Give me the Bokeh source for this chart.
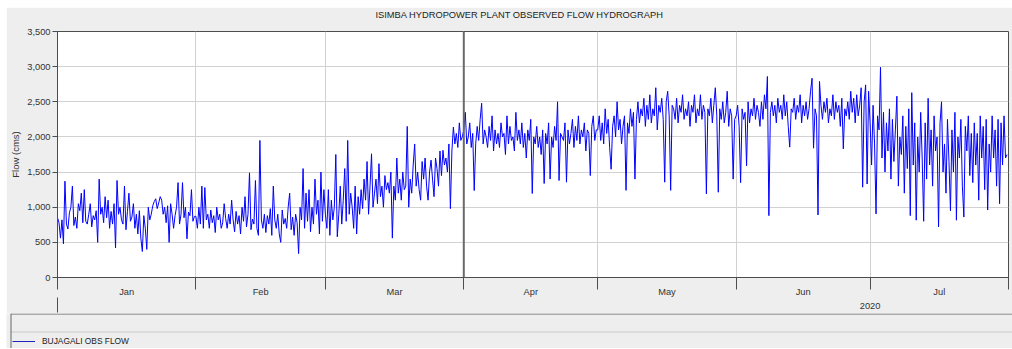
import pandas as pd
from bokeh.plotting import figure
from bokeh.models import (FixedTicker, NumeralTickFormatter, Span, Range1d,
                          LinearAxis, Title, Legend, LegendItem)
from bokeh.layouts import column
from bokeh.embed import file_html
from bokeh.resources import INLINE

# ---- data: observed flow (cms), three readings per day (00h, 08h, 16h) ----
jan_flow = [
    850, 780, 560, 820, 480, 1370, 760, 690, 920, 1000, 1300, 740, 860, 700, 1050,
    950, 1200, 780, 1250, 800, 760, 900, 1050, 720, 880, 820, 950, 500, 1400, 900,
    1000, 780, 1150, 850, 1100, 700, 940, 760, 1050, 420, 1380, 900, 1000, 820, 760,
    1300, 680, 940, 1200, 800, 860, 1050, 700, 900, 620, 950, 560, 370, 880, 700,
    400, 1000, 820, 900, 1020, 1080, 1120, 980, 1060, 1150, 1100, 900, 1000, 780, 1020,
    500, 1050, 900, 700, 880, 1000, 1350, 760, 900, 1350, 850, 1000, 550, 930, 880,
    1250, 800, 870,
]
feb_flow = [
    870, 700, 1000, 760, 1300, 700, 1280, 820, 900, 700, 960, 780, 880, 640, 1000,
    820, 900, 700, 780, 1050, 840, 700, 900, 760, 1100, 820, 650, 940, 760, 880,
    620, 1000, 800, 1150, 720, 900, 1490, 680, 830, 760, 1380, 700, 600, 1950, 820,
    700, 900, 640, 880, 760, 980, 600, 1300, 820, 700, 900, 620, 500, 960, 760,
    840, 700, 1000, 1200, 680, 860, 600, 900, 780, 340, 1000, 820, 1550, 700, 1200,
    800, 1250, 650, 1000, 760, 1400, 900, 1100, 620, 1500, 800, 1250,
]
mar_flow = [
    900, 700, 1250, 600, 1100, 820, 1000, 1750, 580, 900, 1300, 760, 1100, 1550, 800,
    1950, 900, 1200, 1000, 700, 1300, 620, 1150, 900, 1250, 980, 1400, 1100, 1650, 900,
    1300, 1760, 1000, 1200, 1400, 1050, 1620, 1150, 1300, 1000, 1450, 1250, 1350, 1200, 1500,
    560, 1300, 1100, 1700, 1200, 1400, 1100, 1500, 1250, 1300, 2150, 1000, 1400, 1200, 1600,
    1900, 1300, 1500, 1250, 1100, 1650, 1400, 1700, 1300, 1100, 1500, 1670, 1400, 1150, 1700,
    1550, 1300, 1800, 1450, 1810, 1600, 1700, 1500, 1900, 980, 1800, 2140, 1900, 2050, 1850,
    2200, 1950, 2000,
]
apr_flow = [
    2100, 2350, 1900, 2000, 2200, 1850, 2050, 1237, 1900, 2150, 1950, 2250, 2480, 1900, 2100,
    2000, 1850, 2150, 1950, 2300, 1800, 2100, 1900, 2050, 1850, 2200, 2000, 2050, 1750, 2300,
    1900, 2150, 1950, 2000, 1800, 2350, 1950, 2100, 1900, 2200, 1850, 2050, 1700, 2100, 1950,
    2250, 1195, 2000, 1900, 2150, 1850, 2000, 1750, 2100, 1337, 2050, 1900, 2200, 1400, 2000,
    1850, 2150, 1950, 2500, 1380, 2050, 2000, 1950, 2200, 1356, 2100, 1900, 2050, 2250, 1850,
    2150, 1950, 2300, 1900, 2100, 2000, 2200, 1800, 2100, 2050, 1450, 2150, 2300, 1950, 2100,
]
may_flow = [
    2100, 2300, 1950, 2200, 1900, 2400, 2050, 2250, 1850, 1540, 2150, 2300, 2000, 2500, 2100,
    2250, 1900, 2150, 2300, 1240, 2200, 2050, 2400, 2150, 2350, 1400, 2250, 2500, 2200, 2400,
    2300, 2550, 2150, 2450, 2250, 2600, 2200, 2400, 2300, 2700, 2100, 2450, 2350, 2550, 2250,
    1356, 2500, 2650, 2300, 1240, 2450, 2400, 2250, 2550, 2200, 2450, 2350, 2600, 2250, 2400,
    2300, 2500, 2150, 2450, 2350, 2600, 2200, 2400, 2300, 2600, 2250, 2450, 2350, 1190, 2400,
    2300, 2550, 2200, 2450, 2700, 2300, 1213, 2400, 2250, 2500, 2200, 2350, 2650, 2150, 2400,
    2300, 1400, 2250,
]
jun_flow = [
    2300, 2450, 2150, 1350, 2400, 2250, 2350, 1590, 2500, 2200, 2400, 2300, 2550, 2250, 2450,
    2350, 2150, 2500, 2250, 2600, 2400, 2860, 880, 2350, 2500, 2300, 2450, 2200, 2550, 2350,
    2450, 2250, 2600, 2300, 2500, 2150, 1855, 2400, 2350, 2550, 2250, 2450, 2350, 2600, 2200,
    2450, 2300, 2500, 2250, 2400, 2650, 2835, 1840, 2400, 2300, 890, 2790, 2450, 2250, 2500,
    2350, 2550, 2200, 2400, 2300, 2600, 2250, 2500, 2350, 2450, 2150, 2550, 1830, 2400, 2300,
    2500, 2250, 2650, 2350, 2550, 2200, 2600, 2300, 2450, 2700, 1285, 2500, 2740, 1330, 2650,
]
jul_flow = [
    2200, 1600, 2450, 1900, 905, 2300, 2100, 2990, 1700, 2350, 1500, 2200, 1800, 2400, 1400,
    2250, 1650, 2100, 2580, 1300, 2000, 1750, 2300, 1200, 2150, 1550, 2400, 880, 2630, 1600,
    2200, 815, 2000, 1500, 2350, 1700, 800, 2200, 1400, 2550, 1600, 2100, 1300, 2300, 1800,
    2000, 720, 2200, 2500, 1500, 1900, 1200, 2250, 1650, 950, 2100, 1500, 2350, 815, 2000,
    1700, 2250, 1300, 860, 2150, 1800, 2300, 1450, 2050, 1350, 2200, 1600, 2050, 1100, 2300,
    1700, 2150, 1250, 2250, 960, 1900, 1500, 2300, 1700, 2100, 1300, 2250, 1050, 2200, 1600,
    2300, 1700, 1750,
]

month_labels = ["Jan", "Feb", "Mar", "Apr", "May", "Jun", "Jul"]
y_ticks = [0, 500, 1000, 1500, 2000, 2500, 3000, 3500]
year_label = "2020"
title_text = "ISIMBA HYDROPOWER PLANT OBSERVED FLOW HYDROGRAPH"
y_label = "Flow (cms)"
series_name = "BUJAGALI OBS FLOW"

flow = jan_flow + feb_flow + mar_flow + apr_flow + may_flow + jun_flow + jul_flow
times = pd.date_range("2020-01-01", periods=len(flow), freq="8h")

month_starts = pd.date_range("2020-01-01", periods=8, freq="MS")
ms = lambda t: float(t.value // 10**6)
start_ms = [ms(t) for t in month_starts]
mid_ms = [(start_ms[i] + start_ms[i + 1]) / 2 for i in range(7)]

FONT = "Liberation Sans"
FRAME = "#4d4d4d"
TXT = "#333333"
BG = "#eeeeee"
LINE = "#0000ff"

W = 1006
p = figure(width=W, height=306, x_axis_type="datetime",
           x_range=Range1d(month_starts[0], month_starts[-1]),
           y_range=Range1d(0, 3500),
           toolbar_location=None, output_backend="svg",
           min_border_left=51, min_border_right=4,
           min_border_top=24, min_border_bottom=36)
p.background_fill_color = "white"
p.border_fill_color = BG
p.outline_line_color = FRAME
p.outline_line_width = 1

xa = p.below[0]
yax = p.left[0]

p.title = Title(text=title_text, align="left", offset=318,
                text_font=FONT, text_font_size="9.3px",
                text_font_style="normal", text_color="#222222", standoff=0)

# blank spacer axis directly above the frame (lifts the title into the header band)
p.add_layout(LinearAxis(ticker=FixedTicker(ticks=[start_ms[3]]),
                        major_label_overrides={start_ms[3]: ""},
                        major_tick_out=12, major_tick_in=0,
                        major_tick_line_color=None,
                        minor_tick_out=0, minor_tick_in=0,
                        axis_line_color=None, major_label_standoff=0,
                        major_label_text_font_size="1px",
                        axis_label_standoff=0), "above")

flow_line = p.line(times, flow, line_color=LINE, line_width=1)

# grid
p.xgrid.ticker = FixedTicker(ticks=start_ms[1:-1])
p.xgrid.grid_line_color = "#d2d2d2"
p.ygrid.grid_line_color = "#d2d2d2"

# marker line at start of April
p.add_layout(Span(location=start_ms[3], dimension="height",
                  line_color="#6a6a6a", line_width=2))

# x axis: month labels centred between month-boundary ticks
xa.ticker = FixedTicker(ticks=mid_ms, minor_ticks=start_ms)
xa.major_label_overrides = {m: lab for m, lab in zip(mid_ms, month_labels)}
xa.major_tick_out = 0
xa.major_tick_in = 0
xa.minor_tick_out = 12
xa.minor_tick_in = 0
xa.minor_tick_line_color = FRAME
xa.axis_line_color = FRAME
xa.major_label_standoff = -3
xa.axis_label_standoff = 0
xa.major_label_text_font = FONT
xa.major_label_text_font_size = "9.3px"
xa.major_label_text_color = TXT

# second x axis: year row
xa2 = LinearAxis(ticker=FixedTicker(ticks=[start_ms[6]], minor_ticks=[start_ms[0]]),
                 major_label_overrides={start_ms[6]: year_label},
                 major_tick_out=0, major_tick_in=0,
                 minor_tick_out=13, minor_tick_in=2,
                 minor_tick_line_color=FRAME, axis_line_color=None,
                 major_label_standoff=-10, axis_label_standoff=0,
                 major_label_text_font=FONT, major_label_text_font_size="9.3px",
                 major_label_text_color=TXT)
p.add_layout(xa2, "below")

# y axis
yax.ticker = FixedTicker(ticks=y_ticks)
yax.formatter = NumeralTickFormatter(format="0,0")
yax.major_tick_out = 5
yax.major_tick_in = 0
yax.minor_tick_line_color = None
yax.axis_line_color = FRAME
yax.major_tick_line_color = FRAME
yax.major_label_standoff = 2
yax.major_label_text_font = FONT
yax.major_label_text_font_size = "9.3px"
yax.major_label_text_color = TXT
yax.axis_label = y_label
yax.axis_label_text_font = FONT
yax.axis_label_text_font_size = "9.5px"
yax.axis_label_text_font_style = "normal"
yax.axis_label_text_color = TXT
yax.axis_label_standoff = 3

# ---- legend panel (separate strip under the chart) ----
leg = figure(width=W, height=35, x_range=Range1d(0, W), y_range=Range1d(0, 35),
             toolbar_location=None, output_backend="svg",
             x_axis_location=None, y_axis_location=None,
             min_border=0, min_border_left=0, min_border_right=0,
             min_border_top=0, min_border_bottom=0)
for fig in (p, leg):
    if "frame_align" in fig.properties():
        fig.frame_align = False
leg.grid.visible = False
leg.xgrid.grid_line_color = None
leg.ygrid.grid_line_color = None
leg.outline_line_color = None
leg.background_fill_color = BG
leg.border_fill_color = BG
# panel rules
leg.segment(x0=[4.5, 4.5, 4.5], y0=[34.5, 16.5, 0], x1=[W, W, 4.5], y1=[34.5, 16.5, 35],
            line_color=["#666666", "#c8c8c8", "#666666"], line_width=1)
# proxy renderer (same series, lies outside this strip's ranges) for the legend sample
proxy = leg.line(times, flow, line_color="#2020c0", line_width=1)
legend = Legend(items=[LegendItem(label=series_name, renderers=[proxy])],
                location=(6, 1), orientation="horizontal",
                glyph_width=23, glyph_height=12, label_height=12,
                label_standoff=7, padding=0, margin=0, spacing=0,
                label_text_font=FONT, label_text_font_size="8.4px",
                label_text_color="#222222",
                background_fill_alpha=0, border_line_color=None)
leg.add_layout(legend)

layout = column(p, leg, spacing=0, margin=(7, 0, 0, 6))
open("out.html", "w").write(file_html(layout, INLINE))
